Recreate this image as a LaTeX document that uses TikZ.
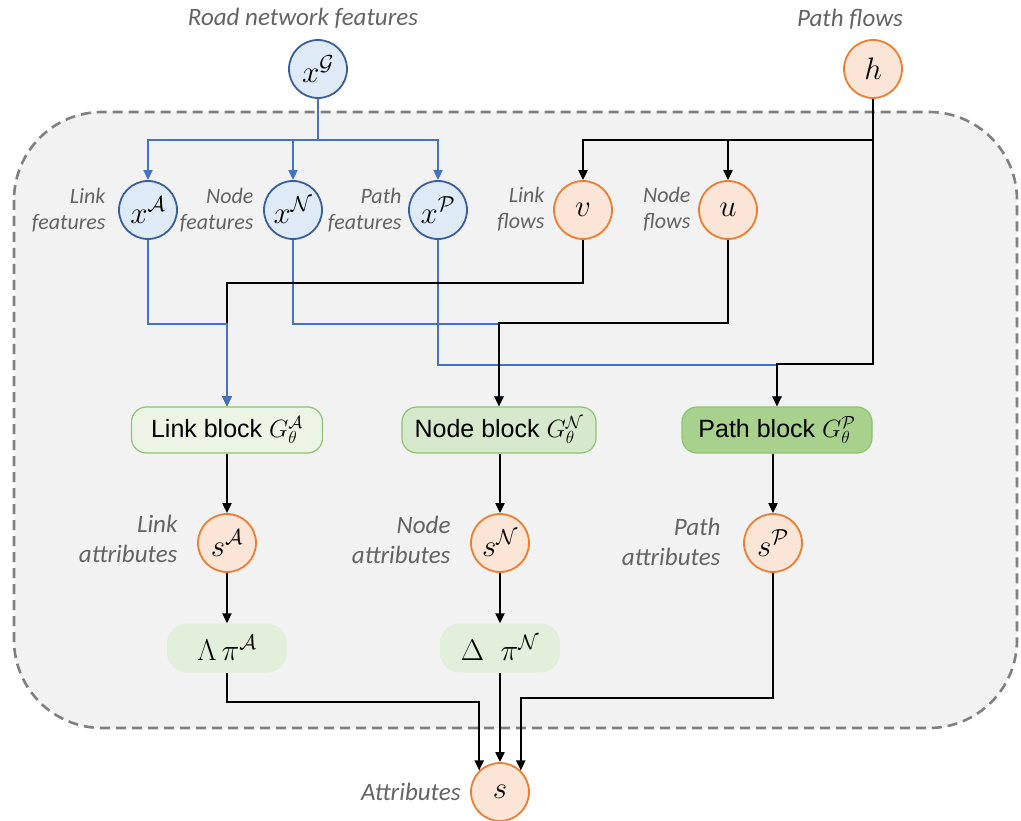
\RequirePackage{fix-cm}
\documentclass[tikz,border=0pt]{standalone}
\usepackage[no-math]{fontspec}
\setmainfont{Carlito}
\newfontfamily\blockfont{Liberation Sans}
\usetikzlibrary{arrows.meta}

\definecolor{panelfill}{HTML}{F2F2F2}
\definecolor{panelline}{HTML}{808080}
\definecolor{labelgray}{HTML}{636363}
\definecolor{featfill}{HTML}{DEEBF7}
\definecolor{featline}{HTML}{3B5E9C}
\definecolor{featwire}{HTML}{4472C4}
\definecolor{flowfill}{HTML}{FBE5D6}
\definecolor{flowline}{HTML}{ED7D31}
\definecolor{linkfill}{HTML}{EBF4E5}
\definecolor{nodefill}{HTML}{D7E9CD}
\definecolor{pathfill}{HTML}{A9D18E}
\definecolor{blockline}{HTML}{8EC370}
\definecolor{projfill}{HTML}{E2EFDA}

\tikzset{
  var/.style={circle, minimum size=58pt, inner sep=0pt, line width=1.8pt,
              font=\fontsize{31}{34}\selectfont},
  featvar/.style={var, draw=featline, fill=featfill},
  flowvar/.style={var, draw=flowline, fill=flowfill},
  lbl/.style={font=\itshape\fontsize{22}{26}\selectfont, text=labelgray, align=right},
  biglbl/.style={font=\itshape\fontsize{25}{30}\selectfont, text=labelgray, align=right},
  gnnblock/.style={rounded corners=15pt, draw=blockline, line width=1.2pt,
                   minimum height=46pt, inner sep=0pt,
                   font=\blockfont\fontsize{25}{28}\selectfont},
  projbox/.style={rounded corners=20pt, fill=projfill, minimum width=120pt,
                  minimum height=49pt, inner sep=0pt,
                  font=\fontsize{30}{32}\selectfont},
  bk/.style={line width=2pt, draw=black,
             -{Triangle[length=10pt,width=9pt]}},
  bkline/.style={line width=2pt, draw=black},
  bl/.style={line width=1.6pt, draw=featwire,
             -{Triangle[length=10pt,width=9pt]}},
  blline/.style={line width=1.6pt, draw=featwire},
}

\begin{document}
\begin{tikzpicture}[x=1pt,y=-1pt]
\useasboundingbox (0,0) rectangle (1021,821);

% dashed panel
\draw[panelline, fill=panelfill, line width=2.6pt, dash pattern=on 10pt off 6pt,
      rounded corners=88pt] (14,112) rectangle (1017,728);

% inputs
\node[featvar] (xG) at (318,69) {$x^{\mathcal{G}}$};
\node[flowvar] (h) at (873,69) {$h$};
\node[biglbl, anchor=center] (tG) at (303,18) {Road network features};
\node[biglbl, anchor=center] (th) at (850,19) {Path flows};

% feature and flow variables
\node[featvar] (xA) at (148,210) {$x^{\mathcal{A}}$};
\node[featvar] (xN) at (293,210) {$x^{\mathcal{N}}$};
\node[featvar] (xP) at (438,210) {$x^{\mathcal{P}}$};
\node[flowvar] (v) at (583,210) {$v$};
\node[flowvar] (u) at (728,210) {$u$};

\node[lbl, anchor=east] (txA) at (109,210) {Link\\features};
\node[lbl, anchor=east] (txN) at (257,210) {Node\\features};
\node[lbl, anchor=east] (txP) at (405,210) {Path\\features};
\node[lbl, anchor=east] (tv) at (548,209) {Link\\flows};
\node[lbl, anchor=east] (tu) at (694,209) {Node\\flows};

% blocks
\node[gnnblock, fill=linkfill, minimum width=191pt] (lb) at (227,430) {Link block $G_{\theta}^{\mathcal{A}}$};
\node[gnnblock, fill=nodefill, minimum width=194pt] (nb) at (499,430) {Node block $G_{\theta}^{\mathcal{N}}$};
\node[gnnblock, fill=pathfill, minimum width=190pt] (pb) at (777,430) {Path block $G_{\theta}^{\mathcal{P}}$};

% attributes
\node[flowvar] (sA) at (227,543) {$s^{\mathcal{A}}$};
\node[flowvar] (sN) at (500,543) {$s^{\mathcal{N}}$};
\node[flowvar] (sP) at (773,543) {$s^{\mathcal{P}}$};
\node[biglbl, anchor=east] (tsA) at (181,539) {Link\\attributes};
\node[biglbl, anchor=east] (tsN) at (454,540) {Node\\attributes};
\node[biglbl, anchor=east] (tsP) at (724,542) {Path\\attributes};

\node[projbox] (lam) at (227,648) {$\Lambda\,\pi^{\mathcal{A}}$};
\node[projbox] (del) at (500,648) {$\Delta\;\;\pi^{\mathcal{N}}$};

\node[flowvar] (s) at (500,792) {$s$};
\node[biglbl, anchor=east] (ts) at (464,792) {Attributes};

% routing points
\coordinate (bsplit) at (318,140);
\coordinate (hsplit) at (873,140);
\coordinate (hturn) at (873,364);
\coordinate (vturn) at (583,283);
\coordinate (uturn) at (728,323);
\coordinate (xAturn) at (148,324);
\coordinate (xNturn) at (293,324);
\coordinate (xPturn) at (438,365);
\coordinate (lamturn) at (227,702);
\coordinate (sPturn) at (773,698);

% feature wiring (blue)
\draw[blline] (xG.south) -- (bsplit);
\draw[bl] (bsplit) -| (xA.north);
\draw[bl] (bsplit) -| (xN.north);
\draw[bl] (bsplit) -| (xP.north);
\draw[bl] (xN.south) -- (xNturn) -| (nb.north);
\draw[bl] (xP.south) -- (xPturn) -| (pb.north);

% flow wiring (black)
\draw[bkline] (h.south) -- (hsplit);
\draw[bk] (hsplit) -| (v.north);
\draw[bk] (hsplit) -| (u.north);
\draw[bk] (hsplit) -- (hturn) -| (pb.north);
\draw[bk] (v.south) -- (vturn) -| (lb.north);
\draw[bk] (u.south) -- (uturn) -| (nb.north);
\draw[bl] (xA.south) -- (xAturn) -| (lb.north);

% outputs
\draw[bk] (lb) -- (sA);
\draw[bk] (nb.south -| sN.north) -- (sN.north);
\draw[bk] (pb.south -| sP.north) -- (sP.north);
\draw[bk] (sA) -- (lam);
\draw[bk] (sN) -- (del);
\draw[bk] (lam.south) -- (lamturn) -| (s.134);
\draw[bk] (del) -- (s);
\draw[bk] (sP.south) -- (sPturn) -| (s.46);
\end{tikzpicture}
\end{document}
